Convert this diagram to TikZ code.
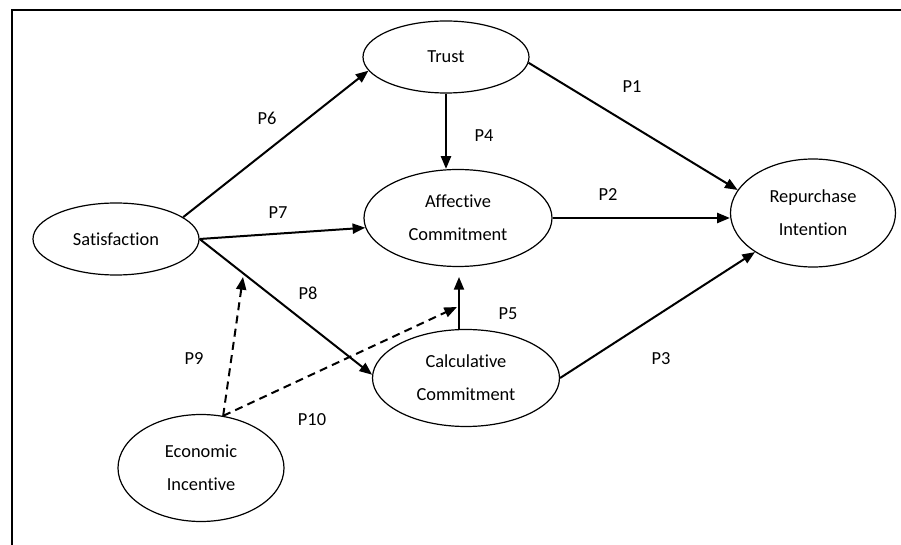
\documentclass[tikz,border=0pt]{standalone}
\usepackage{fontspec}
\setmainfont[Ligatures = NoCommon]{Carlito}
\usepackage{tikz}
\usetikzlibrary{shapes.geometric}
\usetikzlibrary{arrows, arrows.meta}
\usetikzlibrary{shapes}

\begin{document}
\begin{tikzpicture}[x = 0.75pt, y = -0.75pt,
        font = \fontsize{13.8}{24.8}\selectfont,
        var/.style = {draw, ellipse, line width = 0.9pt, inner sep = 0pt, align = center},
        link/.style = {line width = 1.5pt, -{Triangle[length = 9.5pt, width = 7.5pt]}},
        moderator/.style = {link, dash pattern = on 6pt off 4pt},
        lab/.style = {inner sep = 0pt}]
            \useasboundingbox (0, 0) rectangle (901, 545);
            \clip (0, 0) rectangle (901, 545);
            \draw[line width = 1.5pt] (12, 10) rectangle (920, 570);

            \node[var, minimum width = 124.5pt, minimum height = 54pt] (trust) at (446, 57) {Trust};
            \node[var, minimum width = 124.5pt, minimum height = 54pt] (sat) at (116, 239) {Satisfaction};
            \node[var, minimum width = 141pt, minimum height = 72.75pt] (aff) at (458, 218) {Affective\\Commitment};
            \node[var, minimum width = 140.25pt, minimum height = 72.75pt] (calc) at (466, 378) {Calculative\\Commitment};
            \node[var, minimum width = 123.75pt, minimum height = 81pt] (rep) at (813, 213) {Repurchase\\Intention};
            \node[var, minimum width = 124.5pt, minimum height = 80.25pt] (eco) at (201, 468) {Economic\\Incentive};

            \node[lab] (p1) at (632, 87) {P1};
            \node[lab] (p2) at (608, 195) {P2};
            \node[lab] (p3) at (661, 359) {P3};
            \node[lab] (p4) at (484, 136) {P4};
            \node[lab] (p5) at (508, 314) {P5};
            \node[lab] (p6) at (267, 118) {P6};
            \node[lab] (p7) at (278, 213) {P7};
            \node[lab] (p8) at (308, 293) {P8};
            \node[lab] (p9) at (194, 359) {P9};
            \node[lab] (p10) at (312, 420) {P10};

            \draw[link] (trust.-4) -- (rep.163);
            \draw[link] (aff.east) -- (aff.east -| rep.west);
            \draw[link] (calc.east) -- (rep.214);
            \draw[link] (trust.south) -- (trust.south |- aff.north);
            \coordinate (p5end) at (459, 277);
            \draw[link] (p5end |- calc.north) -- (p5end);
            \draw[link] (sat.18) -- (trust.190);
            \draw[link] (sat.east) -- (aff.186);
            \draw[link] (sat.east) -- (calc.178);

            % moderating paths
            \coordinate (ecotop) at (eco.67);
            \coordinate (p9end) at (243, 277);
            \coordinate (p10end) at (457, 307);
            \draw[moderator] (ecotop) -- (p9end);
            \draw[moderator] (ecotop) -- (p10end);
        \end{tikzpicture}
\end{document}
